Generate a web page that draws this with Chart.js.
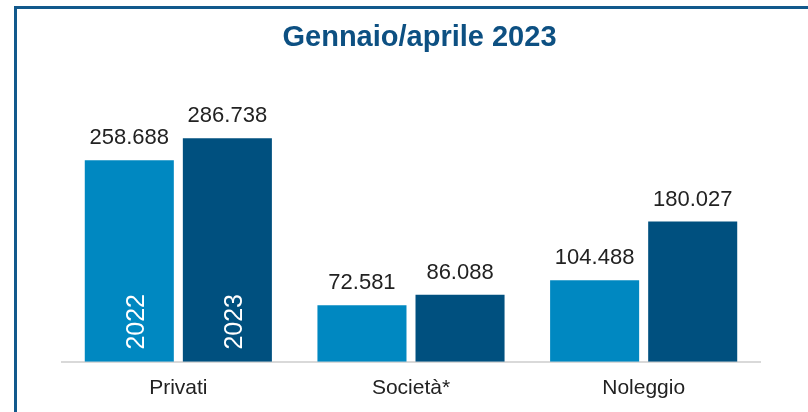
<!DOCTYPE html>
<html>
<head>
<meta charset="utf-8">
<script src="https://cdn.jsdelivr.net/npm/chart.js@4"></script>
<style>
body{margin:0;background:#fff}
#wrap{position:relative;width:808px;height:412px;overflow:hidden}
#frame{position:absolute;left:14px;top:6px;width:900px;height:500px;border-left:3px solid #12598c;border-top:3px solid #12598c}
canvas{position:absolute;left:0;top:0}
</style>
</head>
<body>
<div id="wrap">
<div id="frame"></div>
<canvas id="chart" width="808" height="412"></canvas>
</div>
<script>
let categories=["Privati","Società*","Noleggio"]
let years=["2022","2023"]
let values2022=[258688,72581,104488]
let values2023=[286738,86088,180027]
let colors=["#0088c1","#00507f"]
let title="Gennaio/aprile 2023"

let font="'Liberation Sans', Arial, sans-serif"

function fmt(n){
return String(n).replace(/\B(?=(\d{3})+(?!\d))/g,".")
}

let labelPlugin={
id:"labels",
afterDatasetsDraw(chart){
let ctx=chart.ctx
ctx.save()
chart.data.datasets.forEach(function(ds,i){
let meta=chart.getDatasetMeta(i)
meta.data.forEach(function(bar,j){
ctx.fillStyle="#222"
ctx.font="22px "+font
ctx.textAlign="center"
ctx.textBaseline="middle"
ctx.fillText(fmt(ds.data[j]),bar.x,bar.y-22)
if(j===0){
ctx.save()
ctx.translate(bar.x+8,bar.base-40)
ctx.rotate(-Math.PI/2)
ctx.fillStyle="#fff"
ctx.font="25px "+font
ctx.fillText(ds.label,0,0)
ctx.restore()
}
})
})
// title
ctx.fillStyle="#0d5082"
ctx.font="bold 29px "+font
ctx.textAlign="center"
ctx.textBaseline="alphabetic"
ctx.fillText(title,419.5,46)
ctx.restore()
}
}

new Chart(document.getElementById("chart"),{
type:"bar",
data:{
labels:categories,
datasets:[
{label:years[0],data:values2022,backgroundColor:colors[0]},
{label:years[1],data:values2023,backgroundColor:colors[1]}
]
},
options:{
responsive:false,
animation:false,
layout:{padding:{left:62,right:48,top:89,bottom:-3}},
categoryPercentage:0.843,
barPercentage:0.908,
plugins:{
legend:{display:false},
tooltip:{enabled:false},
title:{display:false}
},
scales:{
x:{
grid:{display:false,drawTicks:false},
border:{display:true,color:"#d9d9d9",width:2},
ticks:{color:"#222",font:{family:font,size:21},padding:14}
},
y:{
display:false,
min:0,
max:350000
}
}
},
plugins:[labelPlugin]
})
</script>
</body>
</html>
